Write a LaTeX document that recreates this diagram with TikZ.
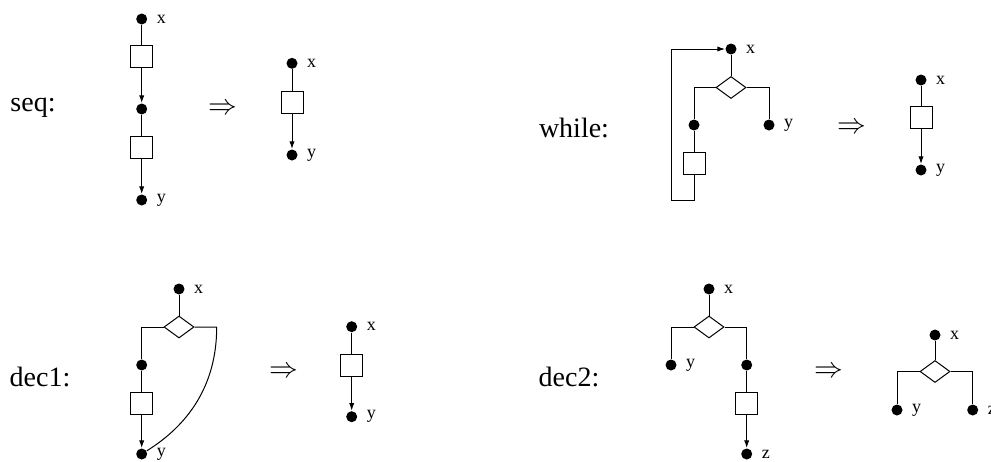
\documentclass[tikz,border=0pt]{standalone}
\usepackage{fontspec}
\setmainfont{Liberation Serif}
\usetikzlibrary{shapes.geometric,arrows.meta}
\begin{document}
\begin{tikzpicture}[x=0.5pt,y=-0.5pt,line width=0.5pt,
  pt/.style={circle,fill,inner sep=0pt,minimum size=5.5pt},
  blk/.style={draw,fill=white,inner sep=0pt,minimum size=11pt},
  cond/.style={diamond,draw,fill=white,inner sep=0pt,minimum width=15pt,minimum height=11pt},
  lab/.style={font=\fontsize{9}{10}\selectfont,label distance=1pt},
  ttl/.style={font=\fontsize{14}{16}\selectfont},
  arr/.style={-{Latex[length=3.8pt,width=2.6pt]}}]
\useasboundingbox (0,0) rectangle (991,461);
% seq
\node[ttl] (tseq) at (33,108) {seq:};
\node[pt,label={[lab]right:x}] (s1) at (141.7,19) {};
\node[blk] (sb1) at (141.7,56.3) {};
\node[pt] (s2) at (141.7,109) {};
\node[blk] (sb2) at (141.7,147) {};
\node[pt,label={[lab]right:y}] (s3) at (141.7,200) {};
\node[ttl] (simp) at (223,109) {$\Rightarrow$};
\node[pt,label={[lab]right:x}] (s4) at (292,63.3) {};
\node[blk] (sb3) at (292,102) {};
\node[pt,label={[lab]right:y}] (s5) at (292,155) {};
\draw (s1) -- (sb1);
\draw[arr] (sb1) -- (s2);
\draw (s2) -- (sb2);
\draw[arr] (sb2) -- (s3);
\draw (s4) -- (sb3);
\draw[arr] (sb3) -- (s5);
% while
\node[ttl] (twhile) at (574,128) {while:};
\node[pt,label={[lab]right:x}] (w1) at (731,49) {};
\node[cond] (wd) at (731,87.5) {};
\node[pt] (w2) at (694,125) {};
\node[pt,label={[lab]right:y}] (w3) at (769,125) {};
\node[blk] (wb) at (694,163) {};
\coordinate (wc1) at (694,200);
\coordinate (wc2) at (671,200);
\draw (w1) -- (wd);
\draw (wd.west) -| (w2);
\draw (wd.east) -| (w3);
\draw (w2) -- (wb);
\draw[arr] (wb) -- (wc1) -- (wc2) |- (w1);
\node[ttl] (wimp) at (852,128) {$\Rightarrow$};
\node[pt,label={[lab]right:x}] (w4) at (921,80) {};
\node[blk] (wb2) at (921,117) {};
\node[pt,label={[lab]right:y}] (w5) at (921,170) {};
\draw (w4) -- (wb2);
\draw[arr] (wb2) -- (w5);
% dec1
\node[ttl] (tdec1) at (40,377) {dec1:};
\node[pt,label={[lab]right:x}] (a1) at (179,289) {};
\node[cond] (ad) at (179,327) {};
\node[pt] (a2) at (141.7,365) {};
\node[blk] (ab) at (141.7,403) {};
\node[pt,label={[lab]right:y}] (a3) at (141.7,454) {};
\coordinate (ac) at (216.7,327);
\draw (a1) -- (ad);
\draw (ad.west) -| (a2);
\draw (a2) -- (ab);
\draw[arr] (ab) -- (a3);
\draw (ad.east) -- (ac) .. controls +(0,60) and +(45,-28) .. (a3);
\node[ttl] (aimp) at (284,372) {$\Rightarrow$};
\node[pt,label={[lab]right:x}] (a4) at (351.7,326.7) {};
\node[blk] (ab2) at (351.7,365) {};
\node[pt,label={[lab]right:y}] (a5) at (351.7,416.7) {};
\draw (a4) -- (ab2);
\draw[arr] (ab2) -- (a5);
% dec2
\node[ttl] (tdec2) at (569,377) {dec2:};
\node[pt,label={[lab]right:x}] (b1) at (709,289) {};
\node[cond] (bd) at (709,327) {};
\node[pt,label={[lab]right:y}] (b2) at (671,365) {};
\node[pt] (b3) at (746.7,365) {};
\node[blk] (bb) at (746.7,403) {};
\node[pt,label={[lab]right:z}] (b4) at (746.7,454) {};
\draw (b1) -- (bd);
\draw (bd.west) -| (b2);
\draw (bd.east) -| (b3);
\draw (b3) -- (bb);
\draw[arr] (bb) -- (b4);
\node[ttl] (bimp) at (829,372) {$\Rightarrow$};
\node[pt,label={[lab]right:x}] (b5) at (935,335) {};
\node[cond] (bd2) at (935,371.5) {};
\node[pt,label={[lab]right:y}] (b6) at (897,410) {};
\node[pt,label={[lab]right:z}] (b7) at (972.7,410) {};
\draw (b5) -- (bd2);
\draw (bd2.west) -| (b6);
\draw (bd2.east) -| (b7);
\end{tikzpicture}
\end{document}
